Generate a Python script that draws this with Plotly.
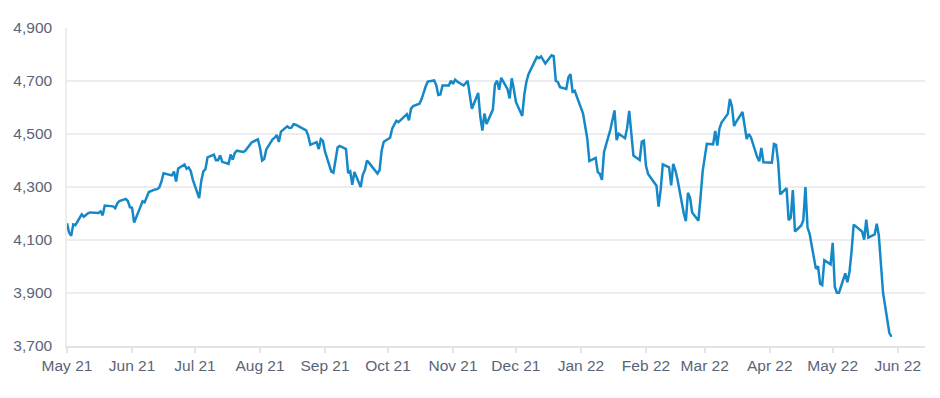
import plotly.graph_objects as go

# Daily closes (index level), trading days 17 May 2021 - 14 Jun 2022
dates = [
    "2021-05-17","2021-05-18","2021-05-19","2021-05-20","2021-05-21","2021-05-24","2021-05-25","2021-05-26","2021-05-27","2021-05-28",
    "2021-06-01","2021-06-02","2021-06-03","2021-06-04","2021-06-07","2021-06-08","2021-06-09","2021-06-10","2021-06-11","2021-06-14",
    "2021-06-15","2021-06-16","2021-06-17","2021-06-18","2021-06-21","2021-06-22","2021-06-23","2021-06-24","2021-06-25","2021-06-28",
    "2021-06-29","2021-06-30","2021-07-01","2021-07-02","2021-07-06","2021-07-07","2021-07-08","2021-07-09","2021-07-12","2021-07-13",
    "2021-07-14","2021-07-15","2021-07-16","2021-07-19","2021-07-20","2021-07-21","2021-07-22","2021-07-23","2021-07-26","2021-07-27",
    "2021-07-28","2021-07-29","2021-07-30","2021-08-02","2021-08-03","2021-08-04","2021-08-05","2021-08-06","2021-08-09","2021-08-10",
    "2021-08-11","2021-08-12","2021-08-13","2021-08-16","2021-08-17","2021-08-18","2021-08-19","2021-08-20","2021-08-23","2021-08-24",
    "2021-08-25","2021-08-26","2021-08-27","2021-08-30","2021-08-31","2021-09-01","2021-09-02","2021-09-03","2021-09-07","2021-09-08",
    "2021-09-09","2021-09-10","2021-09-13","2021-09-14","2021-09-15","2021-09-16","2021-09-17","2021-09-20","2021-09-21","2021-09-22",
    "2021-09-23","2021-09-24","2021-09-27","2021-09-28","2021-09-29","2021-09-30","2021-10-01","2021-10-04","2021-10-05","2021-10-06",
    "2021-10-07","2021-10-08","2021-10-11","2021-10-12","2021-10-13","2021-10-14","2021-10-15","2021-10-18","2021-10-19","2021-10-20",
    "2021-10-21","2021-10-22","2021-10-25","2021-10-26","2021-10-27","2021-10-28","2021-10-29","2021-11-01","2021-11-02","2021-11-03",
    "2021-11-04","2021-11-05","2021-11-08","2021-11-09","2021-11-10","2021-11-11","2021-11-12","2021-11-15","2021-11-16","2021-11-17",
    "2021-11-18","2021-11-19","2021-11-22","2021-11-23","2021-11-24","2021-11-26","2021-11-29","2021-11-30","2021-12-01","2021-12-02",
    "2021-12-03","2021-12-06","2021-12-07","2021-12-08","2021-12-09","2021-12-10","2021-12-13","2021-12-14","2021-12-15","2021-12-16",
    "2021-12-17","2021-12-20","2021-12-21","2021-12-22","2021-12-23","2021-12-27","2021-12-28","2021-12-29","2021-12-30","2021-12-31",
    "2022-01-03","2022-01-04","2022-01-05","2022-01-06","2022-01-07","2022-01-10","2022-01-11","2022-01-12","2022-01-13","2022-01-14",
    "2022-01-18","2022-01-19","2022-01-20","2022-01-21","2022-01-24","2022-01-25","2022-01-26","2022-01-27","2022-01-28","2022-01-31",
    "2022-02-01","2022-02-02","2022-02-03","2022-02-04","2022-02-07","2022-02-08","2022-02-09","2022-02-10","2022-02-11","2022-02-14",
    "2022-02-15","2022-02-16","2022-02-17","2022-02-18","2022-02-22","2022-02-23","2022-02-24","2022-02-25","2022-02-28","2022-03-01",
    "2022-03-02","2022-03-03","2022-03-04","2022-03-07","2022-03-08","2022-03-09","2022-03-10","2022-03-11","2022-03-14","2022-03-15",
    "2022-03-16","2022-03-17","2022-03-18","2022-03-21","2022-03-22","2022-03-23","2022-03-24","2022-03-25","2022-03-28","2022-03-29",
    "2022-03-30","2022-03-31","2022-04-01","2022-04-04","2022-04-05","2022-04-06","2022-04-07","2022-04-08","2022-04-11","2022-04-12",
    "2022-04-13","2022-04-14","2022-04-18","2022-04-19","2022-04-20","2022-04-21","2022-04-22","2022-04-25","2022-04-26","2022-04-27",
    "2022-04-28","2022-04-29","2022-05-02","2022-05-03","2022-05-04","2022-05-05","2022-05-06","2022-05-09","2022-05-10","2022-05-11",
    "2022-05-12","2022-05-13","2022-05-16","2022-05-17","2022-05-18","2022-05-19","2022-05-20","2022-05-23","2022-05-24","2022-05-25",
    "2022-05-26","2022-05-27","2022-05-31","2022-06-01","2022-06-02","2022-06-03","2022-06-06","2022-06-07","2022-06-08","2022-06-09",
    "2022-06-10","2022-06-13","2022-06-14",
]

closes = [
    4163, 4128, 4116, 4159, 4156, 4197, 4188, 4196, 4201, 4204,
    4202, 4208, 4193, 4230, 4227, 4227, 4220, 4239, 4247, 4255,
    4247, 4224, 4222, 4166, 4225, 4246, 4242, 4266, 4281, 4291,
    4292, 4298, 4320, 4352, 4344, 4358, 4321, 4370, 4385, 4369,
    4374, 4360, 4327, 4258, 4323, 4359, 4367, 4412, 4422, 4401,
    4401, 4419, 4395, 4387, 4423, 4403, 4429, 4437, 4432, 4437,
    4448, 4461, 4468, 4480, 4448, 4400, 4406, 4442, 4480, 4486,
    4496, 4470, 4509, 4529, 4523, 4524, 4537, 4535, 4520, 4514,
    4493, 4459, 4469, 4443, 4481, 4474, 4433, 4358, 4354, 4396,
    4449, 4455, 4443, 4353, 4359, 4308, 4357, 4300, 4346, 4364,
    4400, 4391, 4361, 4351, 4364, 4438, 4471, 4486, 4520, 4536,
    4550, 4545, 4566, 4575, 4552, 4596, 4605, 4614, 4631, 4661,
    4680, 4698, 4702, 4685, 4647, 4649, 4683, 4683, 4701, 4689,
    4705, 4698, 4683, 4691, 4701, 4595, 4655, 4567, 4513, 4577,
    4538, 4592, 4687, 4701, 4667, 4712, 4669, 4634, 4710, 4669,
    4621, 4568, 4649, 4697, 4726, 4791, 4786, 4793, 4779, 4766,
    4797, 4794, 4701, 4696, 4677, 4670, 4713, 4726, 4659, 4663,
    4577, 4533, 4483, 4398, 4410, 4356, 4350, 4327, 4432, 4516,
    4547, 4589, 4477, 4501, 4484, 4522, 4587, 4504, 4419, 4402,
    4471, 4475, 4380, 4349, 4305, 4226, 4289, 4385, 4374, 4306,
    4387, 4363, 4329, 4201, 4171, 4278, 4260, 4204, 4173, 4262,
    4358, 4412, 4463, 4461, 4512, 4456, 4520, 4543, 4576, 4632,
    4602, 4530, 4546, 4583, 4525, 4481, 4500, 4488, 4413, 4397,
    4447, 4393, 4392, 4462, 4459, 4394, 4272, 4296, 4175, 4184,
    4288, 4132, 4155, 4175, 4300, 4147, 4123, 3991, 4001, 3935,
    3930, 4024, 4008, 4089, 3924, 3901, 3901, 3974, 3941, 3979,
    4058, 4158, 4132, 4101, 4177, 4109, 4121, 4161, 4116, 4018,
    3901, 3750, 3735,
]

tick_dates = [
    "2021-05-17","2021-06-17","2021-07-17","2021-08-17","2021-09-17","2021-10-17","2021-11-17",
    "2021-12-17","2022-01-17","2022-02-17","2022-03-17","2022-04-17","2022-05-17","2022-06-17",
]
tick_labels = [
    "May 21","Jun 21","Jul 21","Aug 21","Sep 21","Oct 21","Nov 21",
    "Dec 21","Jan 22","Feb 22","Mar 22","Apr 22","May 22","Jun 22",
]
y_ticks = [3700, 3900, 4100, 4300, 4500, 4700, 4900]
y_labels = ["3,700", "3,900", "4,100", "4,300", "4,500", "4,700", "4,900"]

fig = go.Figure()
fig.add_trace(go.Scatter(
    x=dates, y=closes, mode="lines",
    line=dict(color="#1589c7", width=2.5),
    hoverinfo="x+y", showlegend=False,
))

font_col = "#5b6377"
fig.update_layout(
    width=940, height=398,
    margin=dict(l=59, r=23, t=20, b=60),
    paper_bgcolor="white", plot_bgcolor="white",
    font=dict(family="Liberation Sans, Arial, sans-serif", size=15.5, color=font_col),
    xaxis=dict(
        type="date", automargin=False,
        range=["2021-05-17", "2022-06-30"],
        tickvals=tick_dates, ticktext=tick_labels,
        showgrid=False, zeroline=False,
        showline=True, linecolor="#e3e3ea", linewidth=1.5,
        ticks="outside", ticklen=5, tickcolor="#e3e3ea", tickwidth=1.5,
        tickfont=dict(size=15.5, color=font_col),
    ),
    yaxis=dict(
        automargin=False,
        range=[3700, 4900],
        tickvals=y_ticks, ticktext=y_labels,
        showgrid=True, gridcolor="#ececf1", gridwidth=1.5,
        zeroline=False, showline=True, linecolor="#ececf1", linewidth=1.5,
        ticks="", ticklabelstandoff=10,
        tickfont=dict(size=15.5, color=font_col),
    ),
)

fig.write_html("out.html")
